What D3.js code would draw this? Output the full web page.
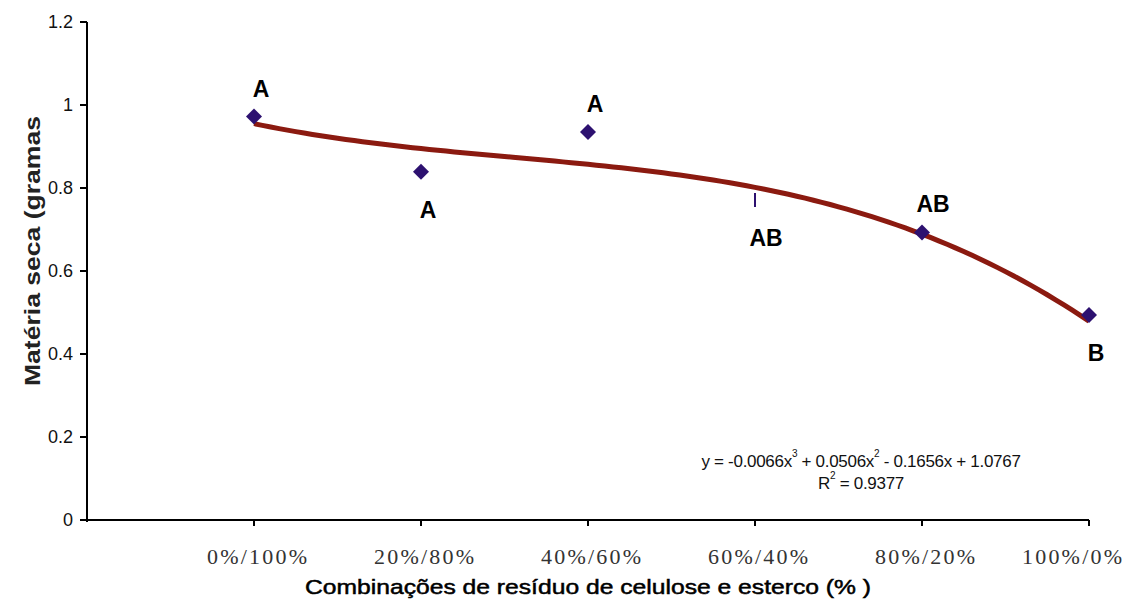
<!DOCTYPE html>
<html>
<head>
<meta charset="utf-8">
<script src="https://cdnjs.cloudflare.com/ajax/libs/d3/7.8.5/d3.min.js"></script>
<style>
  body { margin: 0; background: #fff; }
  svg { display: block; }
</style>
</head>
<body>
<div id="chartContainer"></div>
<script>
// data
var categories = ["0%/100%", "20%/80%", "40%/60%", "60%/40%", "80%/20%", "100%/0%"];
var materiaSeca = [0.972, 0.839, 0.935, 0.771, 0.693, 0.494];
var letters = ["A", "A", "A", "AB", "AB", "B"];
var letterSide = ["above", "below", "above", "below", "above", "below"];
var yTicks = [0, 0.2, 0.4, 0.6, 0.8, 1, 1.2];
// cubic trend line coefficients as printed on the chart (x = 1..6)
var trendCoef = [1.0767, -0.1656, 0.0506, -0.0066];
var trendR2 = "0.9377";

var width = 1131, height = 599;
var svg = d3.select("#chartContainer").append("svg")
	.attr("width", width)
	.attr("height", height);

var x = d3.scaleLinear().domain([0, 6]).range([87, 1089]);
var y = d3.scaleLinear().domain([0, 1.2]).range([520, 22]);

// trend line
var trendX = d3.range(1, 6.001, 0.05);
var trendPts = trendX.map(function (t) {
	return [t, trendCoef[0] + trendCoef[1] * t + trendCoef[2] * t * t + trendCoef[3] * t * t * t];
});
svg.append("path")
	.datum(trendPts)
	.attr("d", d3.line().x(function (d) { return x(d[0]); }).y(function (d) { return y(d[1]); }))
	.style("fill", "none")
	.style("stroke", "#8b1a10")
	.style("stroke-width", 5);

// markers (the 60%/40% one comes out as a thin dash in the original)
svg.selectAll("marker_pt")
	.data(materiaSeca)
	.enter()
	.append("path")
	.attr("transform", function (d, i) { return "translate(" + x(i + 1) + "," + y(d) + ")"; })
	.attr("d", function (d, i) {
		if (i == 3) return "M-1,-7L1,-7L1,7L-1,7Z";
		return "M0,-8L8,0L0,8L-8,0Z";
	})
	.style("fill", "#2d1170");

// significance letters
svg.selectAll("letter_text")
	.data(letters)
	.enter()
	.append("text")
	.attr("x", function (d, i) { return x(i + 1) + (d.length > 1 ? 11 : 7); })
	.attr("y", function (d, i) { return letterSide[i] == "above" ? y(materiaSeca[i]) - 20 : y(materiaSeca[i]) + 46; })
	.attr("text-anchor", "middle")
	.style("font-family", "Liberation Sans, Arial, sans-serif")
	.style("font-weight", "bold")
	.style("font-size", "23px")
	.text(function (d) { return d; });

// axes
svg.append("line")
	.attr("x1", x(0)).attr("x2", x(0))
	.attr("y1", y(1.2)).attr("y2", y(0) + 2)
	.style("stroke", "#000").style("stroke-width", 2);
svg.append("line")
	.attr("x1", x(0)).attr("x2", x(6))
	.attr("y1", y(0)).attr("y2", y(0))
	.style("stroke", "#000").style("stroke-width", 2);

svg.selectAll("ytick")
	.data(yTicks)
	.enter()
	.append("line")
	.attr("x1", x(0) - 7).attr("x2", x(0))
	.attr("y1", function (d) { return y(d); })
	.attr("y2", function (d) { return y(d); })
	.style("stroke", "#000").style("stroke-width", 2);

svg.selectAll("ytick_text")
	.data(yTicks)
	.enter()
	.append("text")
	.attr("x", 73)
	.attr("y", function (d) { return y(d) + 6; })
	.attr("text-anchor", "end")
	.style("font-family", "Liberation Sans, Arial, sans-serif")
	.style("font-size", "18px")
	.style("fill", "#111")
	.text(function (d) { return d; });

svg.selectAll("xtick")
	.data(categories)
	.enter()
	.append("line")
	.attr("x1", function (d, i) { return x(i + 1); })
	.attr("x2", function (d, i) { return x(i + 1); })
	.attr("y1", y(0))
	.attr("y2", y(0) + 6)
	.style("stroke", "#000").style("stroke-width", 2);

// category labels sit centred under the ticks; the last one is pushed in to stay on the page
svg.selectAll("xtick_text")
	.data(categories)
	.enter()
	.append("text")
	.attr("x", function (d, i) { return Math.min(x(i + 1) + 3, width - 59); })
	.attr("y", 564)
	.attr("text-anchor", "middle")
	.attr("textLength", 100)
	.attr("lengthAdjust", "spacing")
	.style("font-family", "Liberation Serif, Times New Roman, serif")
	.style("font-size", "22px")
	.style("fill", "#333")
	.text(function (d) { return d; });

// axis titles
svg.append("text")
	.attr("x", 588)
	.attr("y", 594)
	.attr("text-anchor", "middle")
	.attr("textLength", 566)
	.attr("lengthAdjust", "spacingAndGlyphs")
	.style("font-family", "Liberation Sans, Arial, sans-serif")
	.style("font-size", "21px")
	.style("fill", "#000")
	.style("stroke", "#000")
	.style("stroke-width", 0.5)
	.text("Combinações de resíduo de celulose e esterco (% )");

svg.append("text")
	.attr("transform", "translate(40,251) rotate(-90)")
	.attr("text-anchor", "middle")
	.attr("textLength", 270)
	.attr("lengthAdjust", "spacingAndGlyphs")
	.style("font-family", "Liberation Sans, Arial, sans-serif")
	.style("font-weight", "bold")
	.style("font-size", "22px")
	.style("fill", "#222")
	.text("Matéria seca (gramas");

// equation box
var eq = svg.append("text")
	.attr("x", 861)
	.attr("y", 467)
	.attr("text-anchor", "middle")
	.style("font-family", "Liberation Sans, Arial, sans-serif")
	.style("font-size", "17px")
	.style("letter-spacing", "-0.3px")
	.style("fill", "#111");
var fmt = function (v) { return Math.abs(v).toFixed(4); };
var sign = function (v) { return v < 0 ? " - " : " + "; };
eq.append("tspan").text("y = " + (trendCoef[3] < 0 ? "-" : "") + fmt(trendCoef[3]) + "x");
eq.append("tspan").attr("dy", -10).style("font-size", "10px").text("3");
eq.append("tspan").attr("dy", 10).text(sign(trendCoef[2]) + fmt(trendCoef[2]) + "x");
eq.append("tspan").attr("dy", -10).style("font-size", "10px").text("2");
eq.append("tspan").attr("dy", 10).text(sign(trendCoef[1]) + fmt(trendCoef[1]) + "x" + sign(trendCoef[0]) + fmt(trendCoef[0]));

var r2 = svg.append("text")
	.attr("x", 861)
	.attr("y", 489)
	.attr("text-anchor", "middle")
	.style("font-family", "Liberation Sans, Arial, sans-serif")
	.style("font-size", "17px")
	.style("letter-spacing", "-0.3px")
	.style("fill", "#111");
r2.append("tspan").text("R");
r2.append("tspan").attr("dy", -10).style("font-size", "10px").text("2");
r2.append("tspan").attr("dy", 10).text(" = " + trendR2);
</script>
</body>
</html>
